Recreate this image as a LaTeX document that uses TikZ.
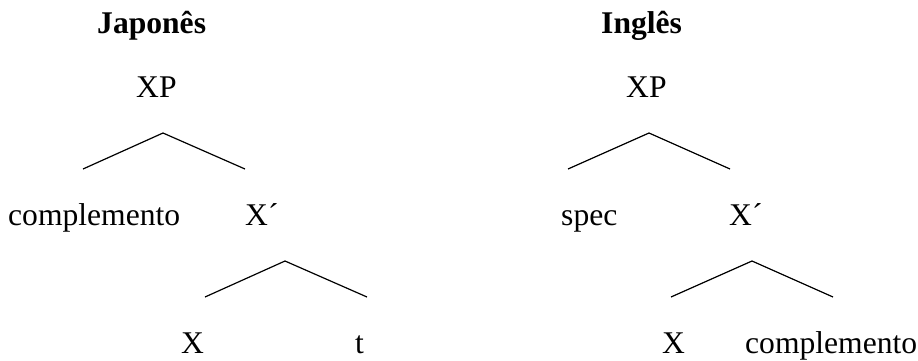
\documentclass[tikz,border=0pt]{standalone}
\usepackage{fontspec}
\setmainfont{Liberation Serif}
\begin{document}
\begin{tikzpicture}[x=1pt,y=-1pt,
  lbl/.style={inner sep=0pt,anchor=base west,font=\fontsize{31.6}{38}\selectfont},
  ttl/.style={lbl,font=\fontsize{31.6}{38}\selectfont\bfseries},
  branch/.style={line width=1.2pt,black}]
\useasboundingbox (0,0) rectangle (918,360);
% Left tree (Japonês)
\node[ttl] (jtitle) at (97,33) {Japonês};
\node[lbl] (jxp) at (136,97) {XP};
\node[lbl] (jcomp) at (8,225) {complemento};
\node[lbl] (jxbar) at (245,225) {X´};
\node[lbl] (jx) at (181,353) {X};
\node[lbl] (jt) at (355,353) {t};
\coordinate (ja1) at (163,133);
\coordinate (jl1) at (83,169);
\coordinate (jr1) at (245,169);
\coordinate (ja2) at (285,261);
\coordinate (jl2) at (205,297);
\coordinate (jr2) at (367,297);
\draw[branch] (jl1) -- (ja1) -- (jr1);
\draw[branch] (jl2) -- (ja2) -- (jr2);
% Right tree (Inglês)
\node[ttl] (etitle) at (601,33) {Inglês};
\node[lbl] (exp) at (626,97) {XP};
\node[lbl] (espec) at (561,225) {spec};
\node[lbl] (exbar) at (729,225) {X´};
\node[lbl] (ex) at (662,353) {X};
\node[lbl] (ecomp) at (745,353) {complemento};
\coordinate (ea1) at (649,133);
\coordinate (el1) at (568,169);
\coordinate (er1) at (730,169);
\coordinate (ea2) at (752,261);
\coordinate (el2) at (671,297);
\coordinate (er2) at (833,297);
\draw[branch] (el1) -- (ea1) -- (er1);
\draw[branch] (el2) -- (ea2) -- (er2);
\end{tikzpicture}
\end{document}
